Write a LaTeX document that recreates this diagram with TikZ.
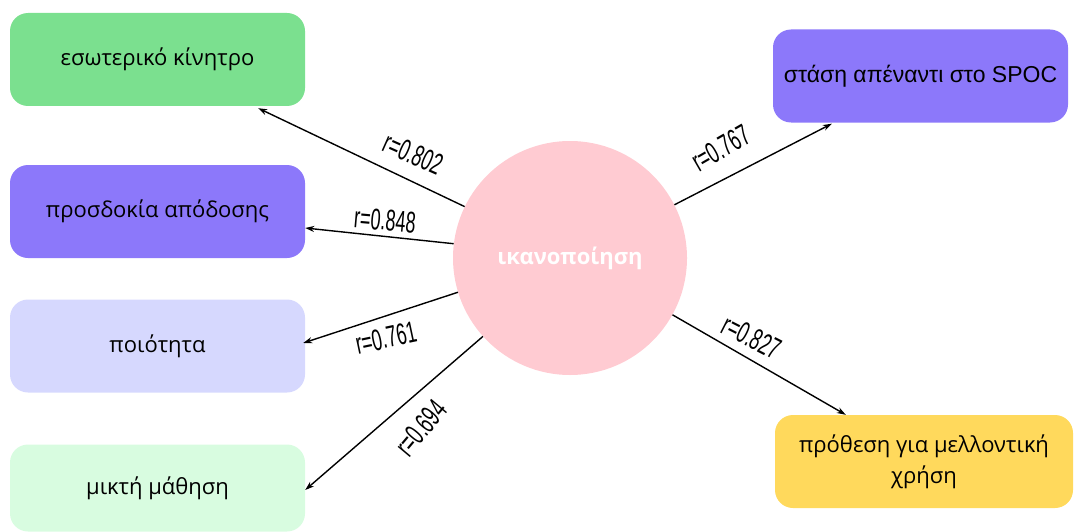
\documentclass[tikz,border=0pt]{standalone}
\usepackage{fontspec}
\setmainfont{Open Sans}
\newfontfamily\arialf{Liberation Sans}
\newfontfamily\lblf[FakeStretch=0.6]{Liberation Sans}
\usetikzlibrary{arrows.meta,calc}
\definecolor{cgreen}{RGB}{123,224,143}
\definecolor{cpurple}{RGB}{140,120,250}
\definecolor{clav}{RGB}{214,216,254}
\definecolor{clgreen}{RGB}{216,252,224}
\definecolor{cyellow}{RGB}{255,217,92}
\definecolor{cpink}{RGB}{255,203,210}
\tikzset{
  boxnode/.style={rounded corners=18pt, minimum width=295pt, minimum height=93pt, inner sep=0pt, align=center, font=\fontsize{22}{31}\selectfont},
  hub/.style={circle, fill=cpink, minimum size=234pt, inner sep=0pt, text=white, font=\fontsize{22}{26}\selectfont\bfseries},
  arr/.style={line width=1.4pt, -{Stealth[length=9pt,width=6pt]}},
  rlab/.style={inner sep=0pt, font=\lblf\fontsize{30}{32}\selectfont}
}
\begin{document}
\begin{tikzpicture}[x=1pt,y=-1pt]
\useasboundingbox (0,0) rectangle (1075,532);
\node[hub] (c) at (570,258) {ικανοποίηση};
\node[boxnode, fill=cgreen] (b1) at (157.5,59.5) {εσωτερικό κίνητρο};
\node[boxnode, fill=cpurple] (b2) at (157.5,211.5) {προσδοκία απόδοσης};
\node[boxnode, fill=clav] (b3) at (157.5,346) {ποιότητα};
\node[boxnode, fill=clgreen, minimum height=87pt] (b4) at (157.5,488) {μικτή μάθηση};
\node[boxnode, fill=cpurple, font=\arialf\fontsize{23}{26}\selectfont] (b5) at (920.5,76) {στάση απέναντι στο SPOC};
\node[boxnode, fill=cyellow, minimum width=298pt] (b6) at (924,461.5) {πρόθεση για μελλοντική\\χρήση};
\coordinate (e1) at ($(b1.south east)+(-47,2)$);
\coordinate (e2) at ($(b2.east)+(0,16.5)$);
\coordinate (e3) at ($(b3.east)+(-2,-3)$);
\coordinate (e4) at ($(b4.east)+(0,2)$);
\coordinate (e5) at ($(b5.south west)+(59,1)$);
\coordinate (e6) at ($(b6.north west)+(71,0)$);
\draw[arr] (c.154.5) -- (e1);
\draw[arr] (c.173.5) -- (e2);
\draw[arr] (c.197.4) -- (e3);
\draw[arr] (c.222.6) -- (e4);
\draw[arr] (c.27.4) -- (e5);
\draw[arr] (c.-29.6) -- (e6);
\node[rlab, rotate=-24] (l1) at (413,154) {r=0.802};
\node[rlab, rotate=-5] (l2) at (385,220) {r=0.848};
\node[rlab, rotate=12] (l3) at (386,338) {r=0.761};
\node[rlab, rotate=50] (l4) at (421,428) {r=0.694};
\node[rlab, rotate=30] (l5) at (721,148) {r=0.767};
\node[rlab, rotate=-27] (l6) at (752,337) {r=0.827};
\end{tikzpicture}
\end{document}
